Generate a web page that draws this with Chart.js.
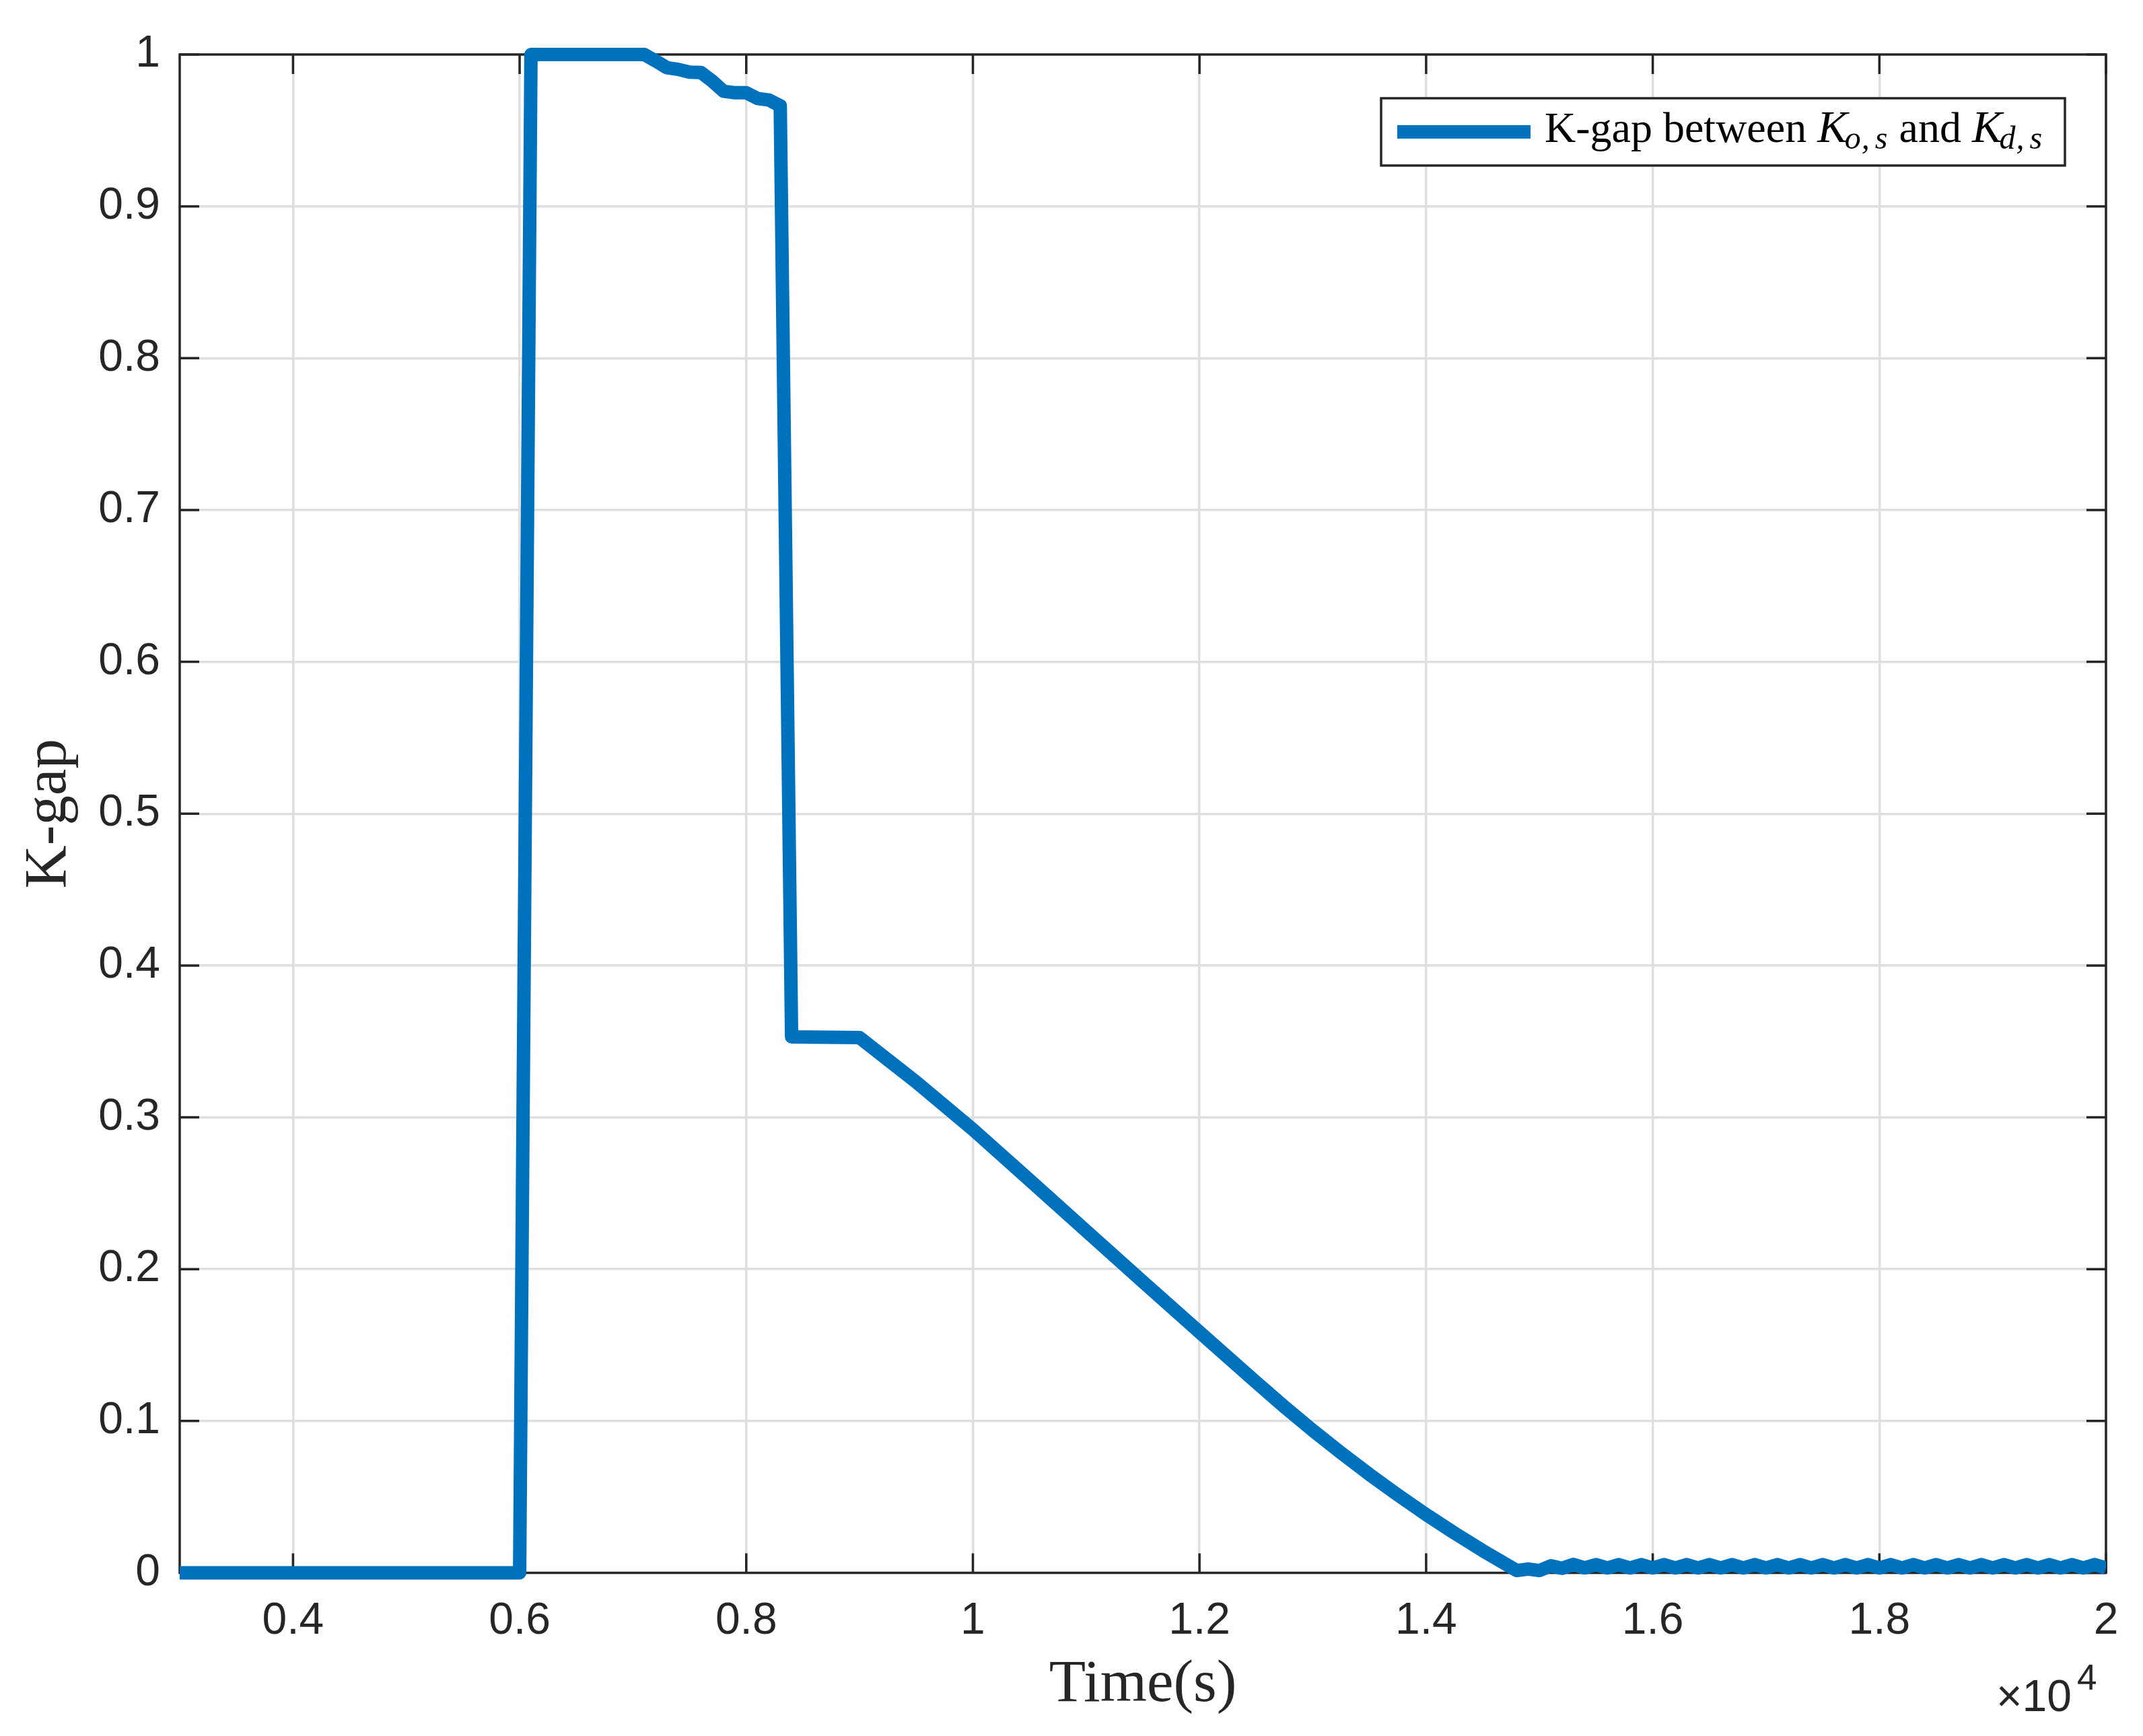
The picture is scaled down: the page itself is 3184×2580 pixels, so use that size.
<!DOCTYPE html>
<html>
<head>
<meta charset="utf-8">
<script src="https://cdn.jsdelivr.net/npm/chart.js@4.4.0/dist/chart.umd.min.js"></script>
<style>
html,body{margin:0;padding:0;background:#ffffff;}
#c{display:block;}
</style>
</head>
<body>
<canvas id="c" width="3184" height="2580" style="width:3184px;height:2580px"></canvas>
<script>
// ---- data (time in seconds, K-gap value) ----
const timeSeconds = [
  3000, 6000, 6100, 7100, 7200, 7300, 7400, 7500, 7600, 7700, 7800, 7900, 8000,
  8100, 8200, 8300, 8400, 9000, 9500, 10000, 10500, 11000, 11500, 12000, 12500,
  12750, 13000, 13250, 13500, 13750, 14000, 14250, 14500, 14650,
  14800, 14900, 15000, 15100, 15200, 15300, 15400,
  15500, 15600, 15700, 15800, 15900, 16000, 16100, 16200, 16300, 16400, 16500,
  16600, 16700, 16800, 16900, 17000, 17100, 17200, 17300, 17400, 17500, 17600,
  17700, 17800, 17900, 18000, 18100, 18200, 18300, 18400, 18500, 18600, 18700,
  18800, 18900, 19000, 19100, 19200, 19300, 19400, 19500, 19600, 19700, 19800,
  19900, 20000
];
const kGapValues = [
  0, 0, 1.0, 1.0, 0.9958, 0.9913, 0.9902, 0.9884, 0.9881, 0.9825, 0.9758, 0.9748, 0.9748,
  0.9710, 0.9700, 0.9662, 0.3530, 0.3525, 0.3232, 0.2920, 0.2587, 0.2252, 0.1917, 0.1585, 0.1255,
  0.1093, 0.0938, 0.0790, 0.0648, 0.0513, 0.0384, 0.0262, 0.0146, 0.0080,
  0.0015, 0.0025, 0.0015, 0.0046, 0.0030, 0.0055, 0.0033,
  0.0054, 0.0032, 0.0054, 0.0032, 0.0054, 0.0032, 0.0054, 0.0032, 0.0054, 0.0032, 0.0054,
  0.0032, 0.0054, 0.0032, 0.0054, 0.0032, 0.0054, 0.0032, 0.0054, 0.0032, 0.0054, 0.0032,
  0.0054, 0.0032, 0.0054, 0.0032, 0.0054, 0.0032, 0.0054, 0.0032, 0.0054, 0.0032, 0.0054,
  0.0032, 0.0054, 0.0032, 0.0054, 0.0032, 0.0054, 0.0032, 0.0054, 0.0032, 0.0054, 0.0032,
  0.0054, 0.0032
];
const xTickValues = [4000, 6000, 8000, 10000, 12000, 14000, 16000, 18000, 20000];
const xTickLabels = ['0.4', '0.6', '0.8', '1', '1.2', '1.4', '1.6', '1.8', '2'];
const yTickValues = [0, 0.1, 0.2, 0.3, 0.4, 0.5, 0.6, 0.7, 0.8, 0.9, 1];
const yTickLabels = ['0', '0.1', '0.2', '0.3', '0.4', '0.5', '0.6', '0.7', '0.8', '0.9', '1'];
const xRange = [3000, 20000];
const yRange = [0, 1];
const xAxisTitle = 'Time(s)';
const yAxisTitle = 'K-gap';
const xExponent = ['\u00d710', '4'];
const legendParts = [
  {text: 'K-gap between ', kind: 'normal'},
  {text: 'K', kind: 'math'},
  {text: 'o,s', kind: 'sub'},
  {text: ' and ', kind: 'normal'},
  {text: 'K', kind: 'math'},
  {text: 'd,s', kind: 'sub'}
];
const seriesName = 'K-gap between K_{o,s} and K_{d,s}';

// ---- styles ----
const LINE_COLOR = '#0072bd';
const AXIS_COLOR = '#262626';
const GRID_COLOR = '#dfdfdf';
const SANS = "'Liberation Sans', Arial, sans-serif";
const SERIF = "'Liberation Serif', 'Times New Roman', serif";

const framePlugin = {
  id: 'frame',
  beforeDatasetsDraw(chart) {
    const {ctx, chartArea: a, scales: {x, y}} = chart;
    ctx.save();
    ctx.strokeStyle = AXIS_COLOR;
    ctx.lineWidth = 3.5;
    ctx.lineCap = 'butt';
    ctx.beginPath();
    const tl = 29;
    xTickValues.forEach(v => {
      const px = x.getPixelForValue(v);
      ctx.moveTo(px, a.bottom); ctx.lineTo(px, a.bottom - tl);
      ctx.moveTo(px, a.top); ctx.lineTo(px, a.top + tl);
    });
    yTickValues.forEach(v => {
      const py = y.getPixelForValue(v);
      ctx.moveTo(a.left, py); ctx.lineTo(a.left + tl, py);
      ctx.moveTo(a.right, py); ctx.lineTo(a.right - tl, py);
    });
    ctx.stroke();
    ctx.strokeRect(a.left, a.top, a.right - a.left, a.bottom - a.top);
    ctx.restore();
  },
  afterDraw(chart) {
    const {ctx, chartArea: a} = chart;
    ctx.save();
    // exponent label
    ctx.fillStyle = AXIS_COLOR;
    ctx.textBaseline = 'alphabetic';
    ctx.textAlign = 'left';
    ctx.font = '66px ' + SANS;
    const ex0 = a.right - 163;
    ctx.fillText(xExponent[0], ex0, a.bottom + 205);
    const w0 = ctx.measureText(xExponent[0]).width;
    ctx.font = '53px ' + SANS;
    ctx.fillText(xExponent[1], ex0 + w0 + 8, a.bottom + 173);

    // legend box
    const bx = a.right - 1077, by = a.top + 65, bw = 1016, bh = 100;
    ctx.fillStyle = '#ffffff';
    ctx.fillRect(bx, by, bw, bh);
    ctx.strokeStyle = AXIS_COLOR;
    ctx.lineWidth = 3.5;
    ctx.strokeRect(bx, by, bw, bh);
    const cy = by + bh / 2;
    ctx.strokeStyle = LINE_COLOR;
    ctx.lineWidth = 20;
    ctx.lineCap = 'butt';
    ctx.beginPath();
    ctx.moveTo(bx + 24, cy);
    ctx.lineTo(bx + 222, cy);
    ctx.stroke();
    // legend text
    ctx.fillStyle = '#000000';
    let tx = bx + 243;
    const base = cy + 15;
    legendParts.forEach(p => {
      if (p.kind === 'normal') {
        ctx.font = '64px ' + SERIF;
        ctx.fillText(p.text, tx, base);
        tx += ctx.measureText(p.text).width;
      } else if (p.kind === 'math') {
        ctx.font = 'italic 67px ' + SERIF;
        ctx.fillText(p.text, tx, base);
        tx += ctx.measureText(p.text).width - 4;
      } else {
        ctx.font = 'italic 48px ' + SERIF;
        const chars = p.text.split('');
        chars.forEach((ch, i) => {
          ctx.fillText(ch, tx, base + 10);
          tx += ctx.measureText(ch).width + (ch === ',' ? 8 : 1);
        });
      }
    });
    ctx.restore();
  }
};

const chart = new Chart(document.getElementById('c'), {
  type: 'line',
  data: {
    datasets: [{
      label: seriesName,
      data: timeSeconds.map((t, i) => ({x: t, y: kGapValues[i]})),
      borderColor: LINE_COLOR,
      backgroundColor: LINE_COLOR,
      borderWidth: 20,
      borderJoinStyle: 'round',
      borderCapStyle: 'butt',
      pointRadius: 0,
      tension: 0,
      fill: false,
      clip: {left: 0, right: 0, top: false, bottom: false}
    }]
  },
  options: {
    responsive: false,
    animation: false,
    devicePixelRatio: 1,
    events: [],
    layout: {padding: {top: 81, right: 55, left: 0, bottom: 0}},
    plugins: {legend: {display: false}, tooltip: {enabled: false}},
    scales: {
      x: {
        type: 'linear',
        min: xRange[0],
        max: xRange[1],
        afterBuildTicks: s => { s.ticks = xTickValues.map(v => ({value: v})); },
        afterFit: s => { s.height = 242.5; },
        ticks: {
          autoSkip: false,
          maxRotation: 0,
          padding: 33,
          color: AXIS_COLOR,
          font: {family: SANS, size: 66},
          callback: (v, i) => xTickLabels[i]
        },
        grid: {color: GRID_COLOR, lineWidth: 3.5, drawTicks: false},
        border: {display: false},
        title: {
          display: true,
          text: xAxisTitle,
          color: AXIS_COLOR,
          font: {family: SERIF, size: 89},
          padding: {top: 0, bottom: 22}
        }
      },
      y: {
        type: 'linear',
        min: yRange[0],
        max: yRange[1],
        afterBuildTicks: s => { s.ticks = yTickValues.map(v => ({value: v})); },
        afterFit: s => { s.width = 267; },
        ticks: {
          padding: 29,
          color: AXIS_COLOR,
          font: {family: SANS, size: 66},
          callback: (v, i) => yTickLabels[i]
        },
        grid: {color: GRID_COLOR, lineWidth: 3.5, drawTicks: false},
        border: {display: false},
        title: {
          display: true,
          text: yAxisTitle,
          color: AXIS_COLOR,
          font: {family: SERIF, size: 89},
          padding: {top: 20, bottom: 0}
        }
      }
    }
  },
  plugins: [framePlugin]
});
</script>
</body>
</html>
